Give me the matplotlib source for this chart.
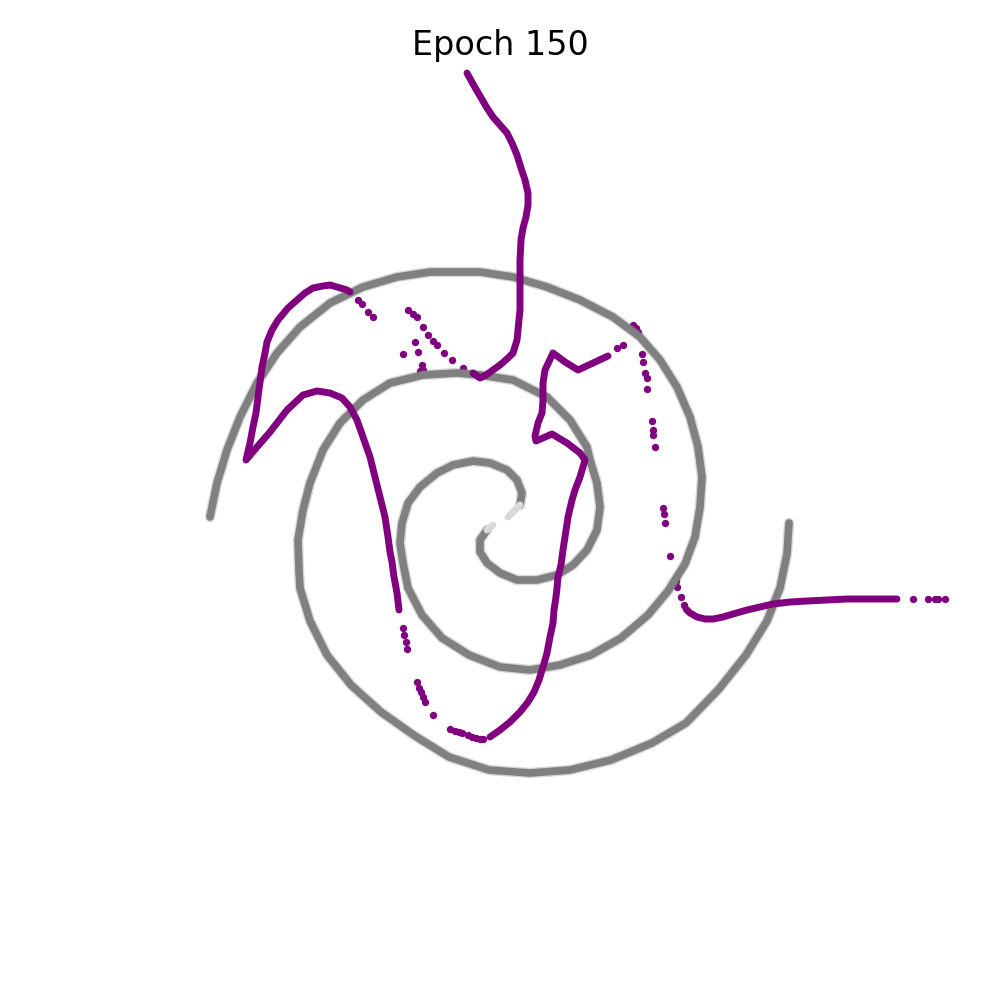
import numpy as np
import matplotlib.pyplot as plt

# twin spiral (real data), two arms from the centre outwards
arm_a_x = [0.20, 0.22, 0.17, 0.07, -0.10, -0.27, -0.47, -0.63, -0.80, -0.92, -0.98, -1.00,
           -0.97, -0.92, -0.78, -0.58, -0.31, 0.00, 0.30, 0.60, 0.91, 1.21, 1.48, 1.68, 1.85,
           1.95, 2.00, 2.02, 1.98, 1.90, 1.77, 1.60, 1.40, 1.13, 0.80, 0.47, 0.13, -0.20,
           -0.70, -1.03, -1.37, -1.70, -2.00, -2.23, -2.43, -2.60, -2.73, -2.83, -2.90]
arm_a_y = [0.15, 0.27, 0.40, 0.50, 0.57, 0.59, 0.55, 0.47, 0.33, 0.17, -0.03, -0.23,
           -0.43, -0.68, -0.95, -1.18, -1.35, -1.47, -1.50, -1.45, -1.35, -1.18, -0.95, -0.71, -0.44,
           -0.17, 0.13, 0.43, 0.73, 1.03, 1.33, 1.60, 1.83, 2.03, 2.20, 2.33, 2.43, 2.48,
           2.48, 2.43, 2.33, 2.17, 1.93, 1.67, 1.37, 1.03, 0.70, 0.37, 0.03]
arm_b_x = [-0.13, -0.20, -0.20, -0.13, 0.00, 0.17, 0.37, 0.57, 0.73, 0.87, 0.97, 1.00,
           0.97, 0.90, 0.87, 0.70, 0.47, 0.13, -0.20, -0.43, -0.77, -1.10, -1.37, -1.60,
           -1.77, -1.90, -1.97, -2.02, -2.01, -2.00, -1.90, -1.73, -1.49, -1.19, -0.85, -0.51,
           -0.11, 0.30, 0.70, 1.11, 1.52, 1.86, 2.19, 2.46, 2.67, 2.80, 2.87, 2.89]
arm_b_y = [-0.10, -0.20, -0.32, -0.43, -0.53, -0.60, -0.60, -0.55, -0.45, -0.30, -0.10, 0.13,
           0.37, 0.60, 0.73, 1.00, 1.23, 1.40, 1.45, 1.47, 1.45, 1.37, 1.20, 0.97,
           0.70, 0.37, 0.10, -0.20, -0.50, -0.68, -1.01, -1.35, -1.65, -1.92, -2.16, -2.37,
           -2.50, -2.53, -2.50, -2.40, -2.23, -2.03, -1.69, -1.35, -1.01, -0.68, -0.34, -0.03]
# faded innermost tips
tip_a_x = [0.08, 0.20]
tip_a_y = [0.03, 0.15]
tip_b_x = [-0.07, -0.13]
tip_b_y = [-0.05, -0.10]

# generated curve, dense stretches
top_x = [-0.33, -0.27, -0.20, -0.13, -0.07, 0.00, 0.07, 0.12, 0.17, 0.21, 0.25, 0.28, 0.28,
         0.26, 0.23, 0.21, 0.20, 0.20, 0.20, 0.18, 0.17, 0.13, 0.08, 0.00, -0.07, -0.14,
         -0.20, -0.27]
top_y = [4.47, 4.36, 4.24, 4.12, 4.03, 3.95, 3.87, 3.77, 3.65, 3.52, 3.40, 3.27, 3.15,
         3.03, 2.92, 2.80, 2.60, 2.37, 2.10, 1.90, 1.80, 1.67, 1.62, 1.55, 1.50, 1.45,
         1.42, 1.47]
arc_x = [-1.50, -1.53, -1.63, -1.70, -1.77, -1.87, -1.95, -2.03, -2.12, -2.22, -2.28, -2.33,
         -2.35, -2.38, -2.40, -2.42, -2.44, -2.47, -2.50, -2.54, -2.43, -2.30, -2.13, -1.97,
         -1.83, -1.70, -1.58, -1.50, -1.43, -1.37, -1.30, -1.25, -1.20, -1.15, -1.12, -1.10,
         -1.08, -1.06, -1.03, -1.01]
arc_y = [2.28, 2.30, 2.33, 2.35, 2.34, 2.32, 2.27, 2.20, 2.12, 2.00, 1.90, 1.78,
         1.67, 1.53, 1.38, 1.23, 1.07, 0.93, 0.77, 0.60, 0.73, 0.88, 1.10, 1.25,
         1.29, 1.27, 1.22, 1.13, 1.00, 0.83, 0.63, 0.43, 0.23, 0.03, -0.17, -0.32,
         -0.42, -0.57, -0.73, -0.90]
rise_x = [-0.10, 0.00, 0.10, 0.20, 0.28, 0.34, 0.39, 0.43, 0.47, 0.50, 0.53, 0.54, 0.56,
          0.57, 0.58, 0.61, 0.63, 0.65, 0.68, 0.72, 0.75, 0.80, 0.85, 0.80, 0.67, 0.52,
          0.36, 0.35, 0.38, 0.42, 0.43, 0.43, 0.45, 0.53, 0.65, 0.78, 0.93, 1.08]
rise_y = [-2.17, -2.10, -2.02, -1.92, -1.82, -1.72, -1.60, -1.47, -1.33, -1.17, -1.03, -0.90, -0.77,
          -0.68, -0.57, -0.45, -0.30, -0.17, 0.03, 0.20, 0.30, 0.43, 0.60, 0.67, 0.77, 0.86,
          0.79, 0.84, 0.97, 1.07, 1.20, 1.37, 1.50, 1.67, 1.58, 1.50, 1.57, 1.64]
right_x = [1.86, 1.90, 1.97, 2.05, 2.13, 2.23, 2.33, 2.47, 2.60, 2.73, 2.90, 3.07, 3.27,
           3.47, 3.67, 3.97]
right_y = [-0.89, -0.93, -0.97, -0.99, -0.99, -0.97, -0.94, -0.90, -0.87, -0.84, -0.82, -0.81, -0.80,
           -0.79, -0.79, -0.79]

# generated curve, sparse points
dots_x = [-0.37, -0.48, -0.56, -0.63, -0.67, -0.72, -0.77, -0.83, -0.87, -0.92,
          -0.97, -0.85, -0.82, -0.78, -0.80, -0.77,
          -1.42, -1.38, -1.32, -1.27,
          -0.97, -0.96, -0.94, -0.93, -0.83, -0.81, -0.79, -0.77, -0.75, -0.67, -0.50, -0.45,
          -0.41, -0.38, -0.32, -0.28, -0.24, -0.20, -0.17,
          1.17, 1.23, 1.33, 1.36, 1.38, 1.42, 1.43, 1.45, 1.47, 1.47, 1.52, 1.53, 1.53, 1.55,
          1.63, 1.64, 1.65, 1.70, 1.76, 1.77, 1.81, 1.84,
          4.13, 4.28, 4.35, 4.38, 4.45]
dots_y = [1.52, 1.60, 1.67, 1.75, 1.79, 1.85, 1.93, 2.03, 2.06, 2.10,
          1.66, 1.78, 1.68, 1.55, 1.49, 1.50,
          2.20, 2.16, 2.08, 2.03,
          -1.08, -1.15, -1.22, -1.29, -1.62, -1.68, -1.72, -1.77, -1.82, -1.95, -2.09, -2.11,
          -2.12, -2.13, -2.15, -2.17, -2.18, -2.19, -2.19,
          1.72, 1.75, 1.95, 1.92, 1.88, 1.66, 1.58, 1.47, 1.42, 1.31, 0.99, 0.90, 0.85, 0.73,
          0.12, 0.06, -0.03, -0.36, -0.61, -0.67, -0.77, -0.85,
          -0.79, -0.79, -0.79, -0.79, -0.79]

fig = plt.figure(figsize=(10, 10), dpi=100)
ax = fig.add_axes([0, 0, 1, 1])

for xs, ys in [(arm_a_x, arm_a_y), (arm_b_x, arm_b_y)]:
    ax.plot(xs, ys, color='grey', lw=7.5, alpha=0.3, solid_capstyle='round', solid_joinstyle='round')
    ax.plot(xs, ys, color='grey', lw=5.5, solid_capstyle='round', solid_joinstyle='round')
for xs, ys in [(tip_a_x, tip_a_y), (tip_b_x, tip_b_y)]:
    ax.plot(xs, ys, color='#d9d9d9', lw=5, solid_capstyle='round')

for xs, ys in [(top_x, top_y), (arc_x, arc_y), (rise_x, rise_y), (right_x, right_y)]:
    ax.plot(xs, ys, color='purple', lw=5, solid_capstyle='round', solid_joinstyle='round')
ax.scatter(dots_x, dots_y, s=28, color='purple', linewidths=0)

ax.set_xlim(-5, 5)
ax.set_ylim(-4.8, 5.2)
ax.axis('off')
fig.text(0.5, 0.945, 'Epoch 150', ha='center', va='baseline', fontsize=24)

fig.savefig('out.png', dpi=100)
